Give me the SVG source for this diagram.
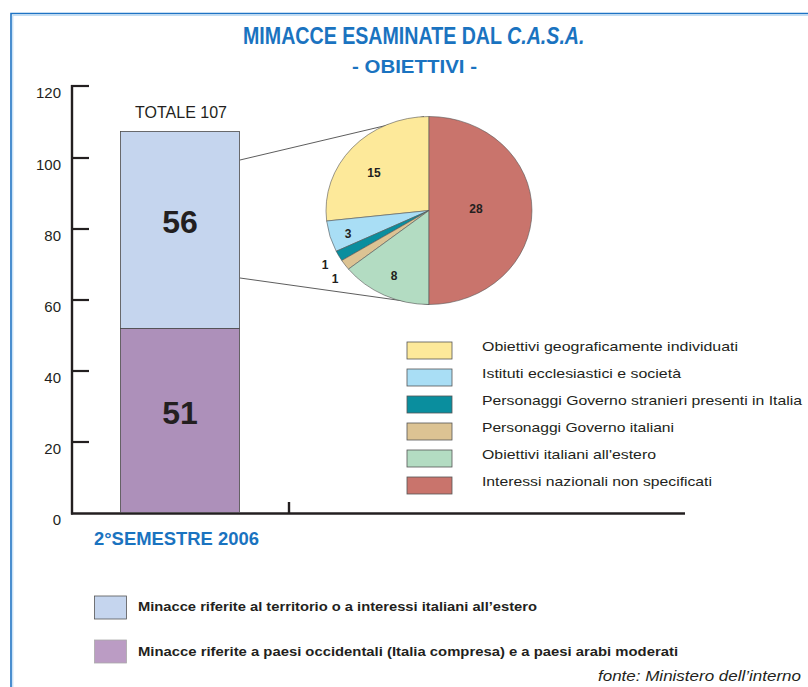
<svg xmlns="http://www.w3.org/2000/svg" width="808" height="687" viewBox="0 0 808 687">
<style>
.title{font-family:"Liberation Sans",Arial,sans-serif;font-weight:bold;fill:#1a73c0}
.ax{font-family:"Liberation Sans",Arial,sans-serif;font-size:15px;fill:#231f20;text-anchor:end}
.big{font-family:"Liberation Sans",Arial,sans-serif;font-size:32px;font-weight:bold;fill:#231f20;text-anchor:middle}
.pl{font-family:"Liberation Sans",Arial,sans-serif;font-size:12px;font-weight:bold;fill:#231f20;text-anchor:middle}
.lg{font-family:"Liberation Sans",Arial,sans-serif;font-size:13px;fill:#231f20}
.lg2{font-family:"Liberation Sans",Arial,sans-serif;font-size:13px;font-weight:bold;fill:#231f20}
.sw{stroke:#555;stroke-width:0.8}
.slice{stroke:#555;stroke-width:0.6}
.axis{stroke:#231f20;fill:none}
.conn{stroke:#333;stroke-width:0.8;fill:none}
</style>
<rect width="808" height="687" fill="#fff"/>
<g id="frame">
<polyline points="11,687 11,13.5 808,13.5" fill="none" stroke="#1e73c4" stroke-width="1.6"/>
<polyline points="12.8,687 12.8,15.3 808,15.3" fill="none" stroke="#b5d6f2" stroke-width="1"/>
</g>
<g id="title">
<text class="title" transform="translate(243,44) scale(0.818,1)" font-size="24">MIMACCE ESAMINATE DAL <tspan font-style="italic">C.A.S.A.</tspan></text>
<text class="title" x="352" y="73" font-size="18.5" textLength="125" lengthAdjust="spacingAndGlyphs">- OBIETTIVI -</text>
</g>
<g id="axis">
<line class="axis" x1="72" y1="85" x2="72" y2="514.5" stroke-width="2.4"/>
<line class="axis" x1="71" y1="513.5" x2="685" y2="513.5" stroke-width="2.6"/>
<line class="axis" x1="289" y1="502" x2="289" y2="514" stroke-width="2.4"/>
<g stroke-width="2.2" class="axis">
<line x1="71" y1="86" x2="89" y2="86"/>
<line x1="71" y1="158" x2="89" y2="158"/>
<line x1="71" y1="229" x2="89" y2="229"/>
<line x1="71" y1="300" x2="89" y2="300"/>
<line x1="71" y1="371" x2="89" y2="371"/>
<line x1="71" y1="442" x2="89" y2="442"/>
</g>
<text class="ax" x="61" y="98">120</text>
<text class="ax" x="61" y="170">100</text>
<text class="ax" x="61" y="241">80</text>
<text class="ax" x="61" y="312">60</text>
<text class="ax" x="61" y="383">40</text>
<text class="ax" x="61" y="454">20</text>
<text class="ax" x="61" y="525">0</text>
<text class="title" x="94" y="545" font-size="18" textLength="165" lengthAdjust="spacingAndGlyphs">2°SEMESTRE 2006</text>
</g>
<g id="bar">
<rect x="120.5" y="131.5" width="119" height="197" fill="#c5d5ee" stroke="#4a4a4a" stroke-width="0.8"/>
<rect x="120.5" y="328.5" width="119" height="184" fill="#ad90ba" stroke="#4a4a4a" stroke-width="0.8"/>
<text x="181" y="117.5" font-family="Liberation Sans, Arial, sans-serif" font-size="16" fill="#231f20" text-anchor="middle">TOTALE 107</text>
<text class="big" x="180" y="232.5">56</text>
<text class="big" x="180" y="423.5">51</text>
</g>
<g id="connectors">
<line class="conn" x1="240" y1="160" x2="424" y2="116.5"/>
<line class="conn" x1="240" y1="278" x2="429" y2="304.5"/>
</g>
<g id="pie">
<path class="slice" fill="#fde99a" d="M429,210.5 L429,116.5 A103,94 0 0,0 326.65,221.02 Z"/>
<path class="slice" fill="#a9def5" d="M429,210.5 L326.65,221.02 A103,94 0 0,0 336.2,251.28 Z"/>
<path class="slice" fill="#0a8e9e" d="M429,210.5 L336.2,251.28 A103,94 0 0,0 341.79,260.51 Z"/>
<path class="slice" fill="#dcc393" d="M429,210.5 L341.79,260.51 A103,94 0 0,0 348.47,269.11 Z"/>
<path class="slice" fill="#b3dcc2" d="M429,210.5 L348.47,269.11 A103,94 0 0,0 429,304.5 Z"/>
<path class="slice" fill="#c9746c" d="M429,210.5 L429,304.5 A103,94 0 0,0 429,116.5 Z"/>
<text class="pl" x="374" y="177">15</text>
<text class="pl" x="476" y="212.5">28</text>
<text class="pl" x="348" y="238">3</text>
<text class="pl" x="394" y="280">8</text>
<text class="pl" x="325" y="269">1</text>
<text class="pl" x="335" y="283">1</text>
</g>
<g id="pie-legend">
<rect class="sw" x="407" y="342" width="45" height="17" fill="#fde99a"/>
<rect class="sw" x="407" y="369" width="45" height="17" fill="#a9def5"/>
<rect class="sw" x="407" y="396" width="45" height="17" fill="#0a8e9e"/>
<rect class="sw" x="407" y="423" width="45" height="17" fill="#dcc393"/>
<rect class="sw" x="407" y="450" width="45" height="17" fill="#b3dcc2"/>
<rect class="sw" x="407" y="477" width="45" height="17" fill="#c9746c"/>
<text class="lg" x="482" y="351" textLength="256" lengthAdjust="spacingAndGlyphs">Obiettivi geograficamente individuati</text>
<text class="lg" x="482" y="378" textLength="199" lengthAdjust="spacingAndGlyphs">Istituti ecclesiastici e società</text>
<text class="lg" x="482" y="405" textLength="320" lengthAdjust="spacingAndGlyphs">Personaggi Governo stranieri presenti in Italia</text>
<text class="lg" x="482" y="432" textLength="192" lengthAdjust="spacingAndGlyphs">Personaggi Governo italiani</text>
<text class="lg" x="482" y="459" textLength="174" lengthAdjust="spacingAndGlyphs">Obiettivi italiani all'estero</text>
<text class="lg" x="482" y="486" textLength="230" lengthAdjust="spacingAndGlyphs">Interessi nazionali non specificati</text>
</g>
<g id="bar-legend">
<rect x="94.5" y="596" width="32" height="23" fill="#c5d5ee" stroke="#555" stroke-width="0.8"/>
<rect x="94.5" y="640" width="32" height="23" fill="#bb9cc4" stroke="#aaa" stroke-width="0.8"/>
<text class="lg2" x="138" y="611" textLength="399" lengthAdjust="spacingAndGlyphs">Minacce riferite al territorio o a interessi italiani all’estero</text>
<text class="lg2" x="138" y="656" textLength="540" lengthAdjust="spacingAndGlyphs">Minacce riferite a paesi occidentali (Italia compresa) e a paesi arabi moderati</text>
</g>
<text id="source" x="598" y="681" font-family="Liberation Sans, Arial, sans-serif" font-size="15" font-style="italic" fill="#231f20" textLength="203" lengthAdjust="spacingAndGlyphs">fonte: Ministero dell’interno</text>
</svg>
